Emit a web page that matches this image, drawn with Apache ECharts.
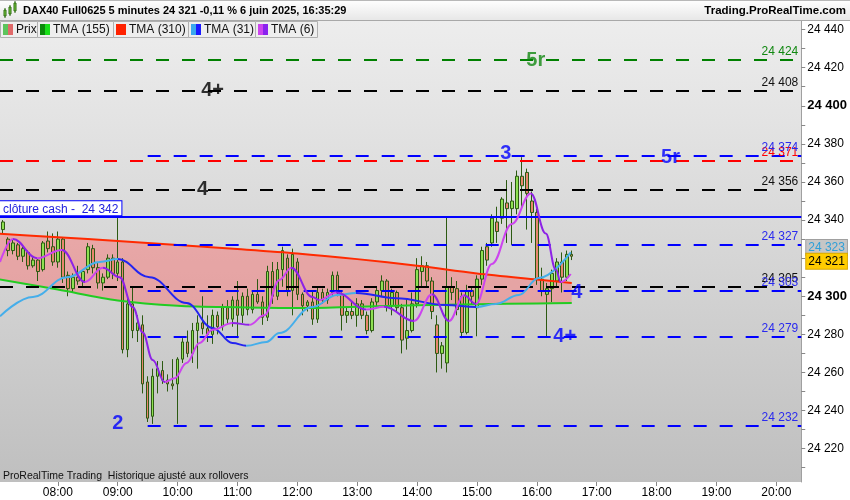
<!DOCTYPE html>
<html><head><meta charset="utf-8">
<script src="https://cdn.jsdelivr.net/npm/echarts@6/dist/echarts.min.js"></script>
<style>html,body{margin:0;padding:0;background:#fff}#c{width:850px;height:500px}</style>
</head><body><div id="c"></div>
<script>
// ---------------- data ----------------
const candleStart = '07:05';           // first 5-minute candle
const candleStepMin = 5;
const opens  = [24335,24330,24324,24327,24321,24323,24316,24319,24314,24329,24326,24318,24330,24311,24304,24310,24308,24314,24325,24315,24307,24310,24320,24312,
                24318,24272,24296,24282,24285,24255,24237,24258,24261,24256,24254,24254,24267,24276,24270,24282,24286,24283,24280,24290,24284,24294,24288,24298,
                24290,24300,24293,24301,24297,24289,24313,24300,24314,24320,24303,24318,24301,24295,24297,24288,24302,24298,24302,24311,24301,24290,24292,24290,
                24296,24290,24282,24297,24303,24308,24295,24302,24294,24278,24282,24296,24313,24316,24308,24285,24270,24265,24305,24304,24300,24281,24303,24294,
                24309,24326,24328,24339,24341,24349,24346,24346,24363,24365,24350,24344,24309,24301,24304,24308,24318,24310,24322];
const highs  = [24340,24331,24330,24328,24326,24324,24321,24320,24329,24334,24333,24334,24331,24313,24312,24316,24314,24328,24327,24318,24312,24322,24322,24343,
                24320,24300,24305,24290,24290,24258,24262,24266,24266,24259,24267,24268,24278,24282,24286,24290,24300,24290,24293,24292,24296,24298,24300,24308,
                24302,24304,24303,24309,24300,24316,24318,24318,24326,24322,24325,24320,24302,24298,24303,24305,24304,24304,24313,24313,24302,24294,24297,24299,
                24298,24292,24299,24305,24311,24309,24304,24303,24296,24299,24302,24320,24321,24318,24310,24290,24276,24342,24310,24308,24302,24306,24305,24311,
                24326,24328,24343,24347,24352,24361,24360,24366,24373,24367,24355,24346,24315,24307,24314,24320,24323,24324,24324];
const lows   = [24333,24321,24322,24319,24318,24314,24315,24308,24313,24323,24316,24315,24307,24300,24302,24306,24305,24312,24312,24304,24303,24309,24309,24308,
                24270,24268,24278,24276,24249,24234,24233,24249,24254,24250,24251,24233,24265,24268,24265,24262,24280,24276,24275,24280,24282,24285,24284,24278,
                24286,24290,24291,24296,24285,24287,24296,24298,24305,24300,24290,24298,24290,24292,24285,24286,24296,24296,24300,24300,24282,24286,24288,24284,
                24288,24280,24281,24294,24300,24292,24290,24292,24270,24272,24281,24294,24305,24305,24288,24260,24262,24260,24298,24290,24278,24280,24296,24279,
                24306,24316,24326,24328,24338,24328,24327,24343,24346,24335,24328,24306,24300,24279,24297,24305,24302,24308,24319];
const closes = [24339,24324,24328,24321,24325,24316,24319,24313,24328,24325,24318,24330,24310,24304,24310,24308,24313,24326,24315,24307,24310,24320,24312,24318,
                24272,24296,24282,24286,24254,24236,24258,24262,24256,24254,24253,24267,24276,24270,24282,24286,24283,24280,24290,24284,24294,24288,24298,24290,
                24300,24293,24301,24297,24289,24313,24300,24314,24324,24303,24322,24301,24295,24297,24288,24302,24298,24302,24311,24302,24290,24292,24290,24296,
                24290,24282,24297,24303,24308,24295,24302,24294,24277,24282,24296,24314,24316,24308,24292,24270,24274,24305,24302,24293,24281,24303,24300,24309,
                24324,24319,24341,24334,24351,24346,24350,24363,24358,24354,24344,24309,24303,24304,24312,24318,24310,24322,24321];

const tmaLongTimes = ['07:00','08:00','09:00','10:00','11:00','12:00','13:00','14:00','15:00','16:00','16:35'];
const tma155 = [24309,24303.5,24297.8,24295,24294.2,24293.8,24294.5,24295.3,24295.8,24296.2,24296.4];
const tma310 = [24332.9,24331,24329,24326.9,24324.8,24322.5,24319.5,24316,24312,24308.8,24307];

const tma31Times = ['07:02','07:35','08:09','08:42','09:00','09:32','10:09','10:35','10:55','11:09','11:29','11:42','12:15','12:40','12:59','13:39','14:29','14:59','15:19','15:42','16:02','16:34'];
const tma31 = [24289.5,24299.6,24310,24318,24319.5,24310,24296.5,24283.4,24275.5,24274,24276,24280.7,24294.4,24300.7,24301.7,24299,24295.4,24294.4,24296,24300.7,24309.6,24323];

const tma6Times = ['07:02','07:15','07:39','08:04','08:27','08:45','09:02','09:15','09:25','09:35','09:47','09:57','10:09','10:22','10:35','10:55','11:12','11:27','11:42','11:54','12:15','12:22','12:39','13:09','13:27','13:57','14:15','14:32','14:47','14:59','15:15','15:35','15:54','16:09','16:19','16:24','16:34'];
const tma6 = [24318,24330,24320,24324.3,24307.5,24315,24310,24294.4,24281,24266.6,24255,24257,24265,24275.5,24282.4,24286,24285,24290,24308.6,24315,24299.6,24298,24302,24293,24294.5,24287,24301,24287,24300.5,24296,24317,24338,24354,24333,24314,24307.5,24311.7];

const levelsGreen = [24424];
const levelsBlack = [24408, 24356, 24305];
const levelsRed   = [24371];
const levelsBlue  = [24374, 24327, 24303, 24279, 24232];
const blueLevelsFrom = '09:30';
const cashClose = 24342;
const lastPrice = 24321;
const lastTma31 = 24323;

const waveText   = ['5r','4+','4','3','5r','4','4+','2'];
const waveTimes  = ['15:59','10:35','10:25','15:29','18:14','16:40','16:28','09:00'];
const waveValues = [24424,24408,24356,24375,24373,24302,24279,24233];

const xTickTimes = ['08:00','09:00','10:00','11:00','12:00','13:00','14:00','15:00','16:00','17:00','18:00','19:00','20:00'];
const yLabelValues = [24220,24240,24260,24280,24300,24320,24340,24360,24380,24400,24420,24440];
const yTickValues = [24210,24220,24230,24240,24250,24260,24270,24280,24290,24300,24310,24320,24330,24340,24350,24360,24370,24380,24390,24400,24410,24420,24430,24440];

const titleText = 'DAX40 Full0625 5 minutes 24 321 -0,11 % 6 juin 2025, 16:35:29';
const siteText = 'Trading.ProRealTime.com';
const footText = 'ProRealTime Trading  Historique ajusté aux rollovers';
const legendNames = ['Prix','TMA (155)','TMA (310)','TMA (31)','TMA (6)'];

// ---------------- helpers ----------------
const toMin = s => { const p = s.split(':'); return (+p[0]) * 60 + (+p[1]); };
const fmtTime = m => String(Math.floor(m / 60)).padStart(2, '0') + ':' + String(m % 60).padStart(2, '0');
const fmt = v => String(v).replace(/\B(?=(\d{3})+(?!\d))/g, ' ');
const FONT = '"Liberation Sans", Arial, sans-serif';
const X_MIN = 422, X_MAX = 1225;

const t0 = toMin(candleStart);
const candleData = opens.map((o, i) => [t0 + candleStepMin * i, o, closes[i], lows[i], highs[i]]);
const longX = tmaLongTimes.map(toMin);
const d155 = longX.map((t, i) => [t, tma155[i]]);
const d310 = longX.map((t, i) => [t, tma310[i]]);
const d31 = tma31Times.map((t, i) => [toMin(t), tma31[i]]);
const d6 = tma6Times.map((t, i) => [toMin(t), tma6[i]]);

function slopePieces(data, up, down) {
  const pieces = [];
  for (let i = 0; i < data.length - 1; i++) {
    pieces.push({ gte: data[i][0], lt: data[i + 1][0], color: data[i + 1][1] >= data[i][1] ? up : down });
  }
  const last = pieces[pieces.length - 1];
  pieces[pieces.length - 1] = { gte: last.gte, lte: data[data.length - 1][0] + 1, color: last.color };
  return pieces;
}

const DASH = [13, 13];
const lvlLabel = color => ({ show: true, position: 'insideEndTop', color: color, fontSize: 12, fontFamily: FONT, distance: [3, 2] });
const marks = [];
levelsGreen.forEach(v => marks.push({ yAxis: v, lineStyle: { color: '#008000', type: DASH, width: 2 }, label: Object.assign(lvlLabel('#118811'), { formatter: fmt(v) }) }));
levelsBlack.forEach(v => marks.push({ yAxis: v, lineStyle: { color: '#000000', type: DASH, width: 2 }, label: Object.assign(lvlLabel('#111111'), { formatter: fmt(v) }) }));
levelsRed.forEach(v => marks.push({ yAxis: v, lineStyle: { color: '#ff0000', type: DASH, width: 2 }, label: Object.assign(lvlLabel('#ff0000'), { formatter: fmt(v) }) }));
levelsBlue.forEach(v => marks.push([
  { coord: [toMin(blueLevelsFrom), v], lineStyle: { color: '#0000ff', type: DASH, width: 2 }, label: Object.assign(lvlLabel('#2a2aee'), { formatter: fmt(v) }) },
  { coord: [X_MAX, v] }
]));
marks.push({ yAxis: cashClose, lineStyle: { color: '#0000ff', type: 'solid', width: 2 },
  label: { show: true, position: 'insideStartTop', distance: [0, 1], formatter: 'clôture cash -  ' + fmt(cashClose), color: '#2020dd', fontSize: 12, fontFamily: FONT,
    backgroundColor: '#ffffff', borderColor: '#0000ff', borderWidth: 1, padding: [2, 3, 0, 3] } });
marks.push({ yAxis: lastTma31, lineStyle: { color: 'rgba(0,0,0,0)', width: 1 },
  label: { show: true, position: 'end', distance: 5, formatter: fmt(lastTma31), color: '#2f9fd8', fontSize: 12, fontFamily: FONT,
    backgroundColor: '#c6c6c6', borderColor: '#a0a0a0', borderWidth: 1, padding: [2, 2, 1, 2], offset: [0, -5] } });
marks.push({ yAxis: lastPrice, lineStyle: { color: 'rgba(0,0,0,0)', width: 1 },
  label: { show: true, position: 'end', distance: 5, formatter: fmt(lastPrice), color: '#000000', fontSize: 12, fontFamily: FONT,
    backgroundColor: '#ffcc00', borderColor: '#d8a800', borderWidth: 1, padding: [2, 2, 1, 2], offset: [0, 5] } });

const waveColors = ['#118811', '#000000', '#000000', '#0000ff', '#0000ff', '#0000ff', '#0000ff', '#0000ff'];
const waveData = waveText.map((t, i) => ({ value: [toMin(waveTimes[i]), waveValues[i]], name: t, label: { color: waveColors[i] } }));

// ---------------- graphics (frame) ----------------
const graphics = [];
graphics.push({ type: 'rect', shape: { x: 0, y: 0, width: 850, height: 21 }, z: 100,
  style: { fill: new echarts.graphic.LinearGradient(0, 0, 0, 1, [{ offset: 0, color: '#ffffff' }, { offset: 1, color: '#e6e6e6' }]) } });
graphics.push({ type: 'line', shape: { x1: 0, y1: 0.5, x2: 850, y2: 0.5 }, style: { stroke: '#b8b8b8' }, z: 101 });
graphics.push({ type: 'line', shape: { x1: 0, y1: 20.5, x2: 850, y2: 20.5 }, style: { stroke: '#a8a8a8' }, z: 101 });
[[4, 10, 6, '#7cd040'], [9, 7, 7, '#7cd040'], [14, 3, 8, '#7cd040']].forEach(c => {
  graphics.push({ type: 'line', shape: { x1: c[0] + 1, y1: c[1] - 2, x2: c[0] + 1, y2: c[1] + c[2] + 2 }, style: { stroke: '#2c6a10' }, z: 102 });
  graphics.push({ type: 'rect', shape: { x: c[0], y: c[1], width: 2, height: c[2] }, style: { fill: c[3], stroke: '#2c6a10', lineWidth: 1 }, z: 103 });
});
graphics.push({ type: 'text', z: 102, style: { text: titleText, x: 23, y: 11, fill: '#000', font: 'bold 11px ' + FONT, verticalAlign: 'middle', align: 'left' } });
graphics.push({ type: 'text', z: 102, style: { text: siteText, x: 846, y: 11, fill: '#000', font: 'bold 11.5px ' + FONT, verticalAlign: 'middle', align: 'right' } });
const legEdges = [0, 37, 113, 188, 255, 317];
const legSw = [['#5cc45c', '#e06a6a'], ['#0a8a0a', '#18e018'], ['#ff2200', '#ff2200'], ['#3aa8ee', '#1a1aff'], ['#cc44ee', '#8a22ee']];
legendNames.forEach((n, i) => {
  const x0 = legEdges[i], x1 = legEdges[i + 1];
  graphics.push({ type: 'rect', z: 100, shape: { x: x0 + 0.5, y: 21.5, width: x1 - x0, height: 16 }, style: { fill: '#eeeeee', stroke: '#b0b0b0' } });
  graphics.push({ type: 'rect', z: 101, shape: { x: x0 + 3, y: 24, width: 5, height: 11 }, style: { fill: legSw[i][0] } });
  graphics.push({ type: 'rect', z: 101, shape: { x: x0 + 8, y: 24, width: 5, height: 11 }, style: { fill: legSw[i][1] } });
  graphics.push({ type: 'text', z: 101, style: { text: n, x: x0 + 16, y: 30, fill: '#111', font: '12px ' + FONT, verticalAlign: 'middle', align: 'left' } });
});
graphics.push({ type: 'text', z: 102, style: { text: footText, x: 3, y: 476, fill: '#111', font: '10.5px ' + FONT, verticalAlign: 'middle', align: 'left' } });

// ---------------- chart ----------------
const chart = echarts.init(document.getElementById('c'), null, { renderer: 'canvas' });
chart.setOption({
  animation: false,
  backgroundColor: '#ffffff',
  textStyle: { fontFamily: FONT },
  grid: { left: 0, top: 21, width: 803, height: 461, show: true, borderWidth: 0,
    backgroundColor: new echarts.graphic.LinearGradient(0, 0, 0, 1, [{ offset: 0, color: '#ededed' }, { offset: 1, color: '#bfbfbf' }]) },
  xAxis: {
    type: 'value', min: X_MIN, max: X_MAX,
    axisLine: { show: false },
    axisTick: { show: true, customValues: xTickTimes.map(toMin), length: 4, lineStyle: { color: '#888' } },
    axisLabel: { customValues: xTickTimes.map(toMin), formatter: v => fmtTime(v), color: '#000', fontSize: 12, fontFamily: FONT, margin: 5 },
    splitLine: { show: false }
  },
  yAxis: {
    type: 'value', position: 'right', min: 24202.5, max: 24444.5, scale: true,
    axisLine: { show: true, lineStyle: { color: '#a0a0a0' } },
    axisTick: { show: true, customValues: yTickValues, length: 4, lineStyle: { color: '#888' } },
    axisLabel: { customValues: yLabelValues, color: '#000', fontSize: 12, fontFamily: FONT, margin: 6,
      formatter: v => (v === 24400 || v === 24300) ? '{b|' + fmt(v) + '}' : fmt(v),
      rich: { b: { fontWeight: 'bold', fontSize: 13, color: '#000', fontFamily: FONT } } },
    splitLine: { show: false }
  },
  visualMap: [
    { show: false, type: 'piecewise', dimension: 0, seriesIndex: 4, pieces: slopePieces(d31, '#45aeea', '#2424f0'), outOfRange: { color: '#45aeea' } },
    { show: false, type: 'piecewise', dimension: 0, seriesIndex: 5, pieces: slopePieces(d6, '#cc44ee', '#8d22e6'), outOfRange: { color: '#cc44ee' } }
  ],
  series: [
    { name: 'band', type: 'custom', data: [[X_MIN, 24300]], silent: true, z: 1, clip: true,
      renderItem: (params, api) => {
        const top = d310.map(p => api.coord(p));
        const bot = d155.map(p => api.coord(p)).reverse();
        return { type: 'polygon', shape: { points: top.concat(bot) }, style: { fill: 'rgba(255,100,100,0.42)' } };
      } },
    { name: 'Prix', type: 'candlestick', data: candleData, encode: { x: 0, y: [1, 2, 3, 4] }, barWidth: 3, z: 3,
      itemStyle: { color: '#8ee052', color0: '#e8866e', borderColor: '#2c5a12', borderColor0: '#2c5a12', borderWidth: 1 } },
    { name: 'TMA (155)', type: 'line', data: d155, smooth: 0.3, showSymbol: false, symbol: 'none', lineStyle: { color: '#22cc22', width: 2 }, z: 4 },
    { name: 'TMA (310)', type: 'line', data: d310, smooth: 0.3, showSymbol: false, symbol: 'none', lineStyle: { color: '#ff2a00', width: 2 }, z: 4 },
    { name: 'TMA (31)', type: 'line', data: d31, smooth: 0.4, smoothMonotone: 'x', showSymbol: false, symbol: 'none', lineStyle: { width: 2 }, z: 5 },
    { name: 'TMA (6)', type: 'line', data: d6, smooth: 0.4, smoothMonotone: 'x', showSymbol: false, symbol: 'none', lineStyle: { width: 2 }, z: 5 },
    { name: 'levels', type: 'line', data: [[toMin('16:35'), lastPrice]], showSymbol: false, symbol: 'none', lineStyle: { opacity: 0 }, clip: false, z: 6,
      markLine: { silent: true, symbol: ['none', 'none'], animation: false, data: marks } },
    { name: 'waves', type: 'scatter', data: waveData, symbolSize: 1, itemStyle: { color: 'rgba(0,0,0,0)' }, z: 7, clip: false,
      label: { show: true, position: 'inside', formatter: p => p.name, fontSize: 20, fontWeight: 'bold', fontFamily: FONT } }
  ],
  graphic: graphics
});
</script></body></html>
